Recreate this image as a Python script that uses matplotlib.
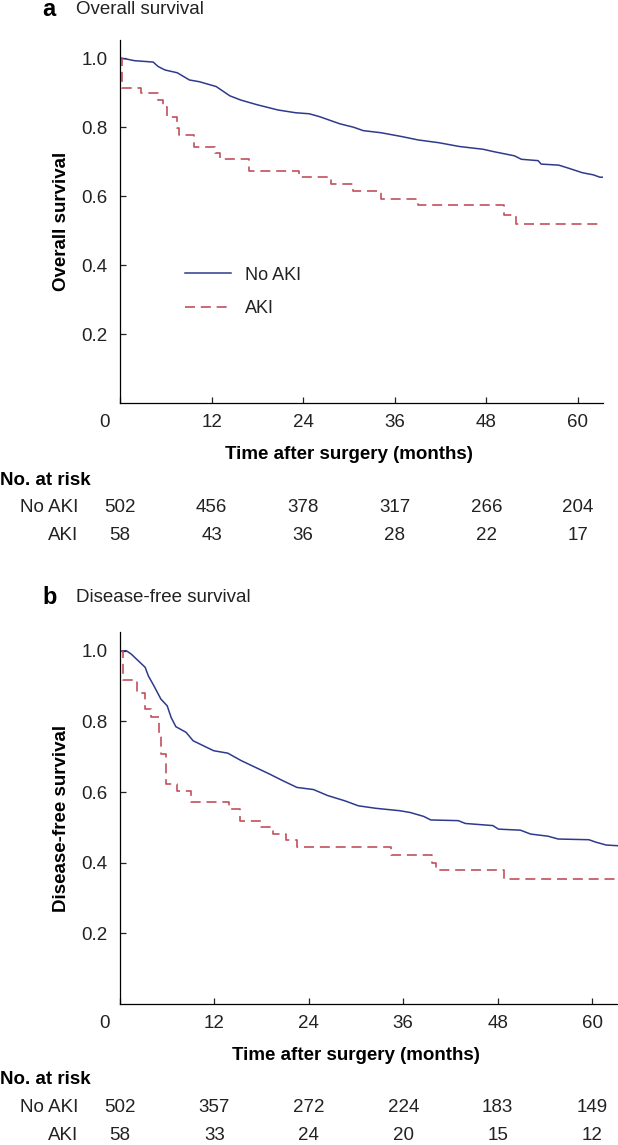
import matplotlib
matplotlib.use("Agg")
import matplotlib.pyplot as plt
from matplotlib.transforms import blended_transform_factory, ScaledTranslation

plt.rcParams['font.family'] = ['Liberation Sans', 'DejaVu Sans']

# ---- data ----
months = [0, 12, 24, 36, 48, 60]

# panel a: overall survival
os_noaki_t = [0, 0.8, 1.9, 4.35, 5.0, 5.9, 7.5, 9.1, 10.4, 12.6, 14.4, 15.8, 18.0, 20.7,
              23.0, 24.8, 26.1, 28.8, 30.6, 31.9, 34.2, 36.9, 39.1, 41.8, 44.5, 47.6, 49.0,
              51.7, 52.6, 54.8, 55.2, 57.5, 58.8, 60.6, 62.0, 62.9, 63.3]
os_noaki_s = [1.0, 0.998, 0.993, 0.989, 0.976, 0.966, 0.958, 0.937, 0.932, 0.918, 0.891,
              0.879, 0.865, 0.850, 0.842, 0.839, 0.831, 0.810, 0.800, 0.790, 0.784, 0.773,
              0.763, 0.755, 0.744, 0.736, 0.729, 0.717, 0.707, 0.703, 0.693, 0.690, 0.681,
              0.668, 0.662, 0.655, 0.655]
os_aki_t = [0, 0.3, 2.8, 5.0, 5.7, 6.1, 7.5, 7.7, 9.7, 12.4, 13.1, 16.9, 23.4, 27.7,
            30.6, 34.2, 39.1, 50.3, 51.9, 63.0]
os_aki_s = [1.0, 0.915, 0.899, 0.879, 0.860, 0.831, 0.797, 0.776, 0.742, 0.725, 0.708,
            0.674, 0.655, 0.635, 0.616, 0.593, 0.573, 0.546, 0.519, 0.519]
os_risk_noaki = [502, 456, 378, 317, 266, 204]
os_risk_aki = [58, 43, 36, 28, 22, 17]

# panel b: disease-free survival
dfs_noaki_t = [0, 0.8, 1.4, 2.3, 3.2, 3.6, 4.3, 5.2, 6.0, 6.5, 7.1, 8.4, 9.3, 10.6, 11.9,
               13.7, 15.4, 17.2, 19.0, 20.7, 22.5, 24.6, 26.4, 28.6, 30.3, 32.5, 35.6, 36.9,
               38.6, 39.5, 43.0, 43.9, 47.4, 48.1, 50.9, 52.2, 54.4, 55.7, 59.6, 60.5, 61.8,
               63.3]
dfs_noaki_s = [1.0, 1.0, 0.991, 0.972, 0.953, 0.929, 0.901, 0.863, 0.844, 0.811, 0.785,
               0.769, 0.745, 0.731, 0.717, 0.710, 0.689, 0.670, 0.651, 0.632, 0.613, 0.607,
               0.590, 0.575, 0.561, 0.554, 0.547, 0.542, 0.531, 0.521, 0.519, 0.511, 0.505,
               0.495, 0.492, 0.481, 0.475, 0.467, 0.465, 0.458, 0.450, 0.448]
dfs_aki_t = [0, 0.35, 2.1, 3.2, 3.9, 4.9, 5.2, 5.8, 7.2, 9.0, 13.8, 15.2, 17.9, 19.4,
             21.1, 22.5, 34.4, 39.6, 40.2, 48.8, 63.3]
dfs_aki_s = [1.0, 0.918, 0.880, 0.835, 0.811, 0.759, 0.708, 0.623, 0.602, 0.571, 0.552,
             0.517, 0.500, 0.481, 0.465, 0.443, 0.422, 0.400, 0.380, 0.354, 0.354]
dfs_risk_noaki = [502, 357, 272, 224, 183, 149]
dfs_risk_aki = [58, 33, 24, 20, 15, 12]

BLUE = '#2f3a8c'
RED = '#c0505c'
INK = '#222222'
W, H = 618, 1145

fig = plt.figure(figsize=(W / 100, H / 100), dpi=100)


def fy(px):
    return 1 - px / H


def panel(box, title_y, letter, title, ylabel, noaki, aki, risk_noaki, risk_aki, rows,
          legend=False):
    left, right, top, bottom = box
    ax = fig.add_axes([left / W, fy(bottom), (right - left) / W, (bottom - top) / H])
    # the big cohort has many tiny steps, so it reads as a jagged line
    ax.plot(noaki[0], noaki[1], color=BLUE, lw=1.1, label='No AKI')
    ax.step(aki[0], aki[1], where='post', color=RED, lw=1.2, dashes=(6, 3.5), label='AKI')
    ax.set_xlim(0, 63.3)
    ax.set_ylim(0, 1.053)
    for s in ['top', 'right']:
        ax.spines[s].set_visible(False)
    for s in ['left', 'bottom']:
        ax.spines[s].set_linewidth(0.9)
    ax.set_xticks(months)
    ax.set_xticklabels([str(m) for m in months])
    ax.set_yticks([0.2, 0.4, 0.6, 0.8, 1.0])
    ax.set_yticklabels(['0.2', '0.4', '0.6', '0.8', '1.0'])
    ax.tick_params(direction='in', length=4.5, width=0.9, labelsize=13.5, colors=INK)
    ax.tick_params(axis='x', pad=8)
    ax.tick_params(axis='y', pad=9)
    # the origin label sits a little to the left
    lab0 = ax.get_xticklabels()[0]
    lab0.set_transform(lab0.get_transform() + ScaledTranslation(-0.15, 0, fig.dpi_scale_trans))

    fig.text(42 / W, fy(title_y), letter, fontsize=17, fontweight='bold', va='center')
    fig.text(76.5 / W, fy(title_y), title, fontsize=13.5, va='center', color=INK)
    fig.text(62 / W, fy((top + bottom) / 2), ylabel, rotation=90, fontsize=13.5,
             fontweight='bold', ha='center', va='center')

    tr = blended_transform_factory(ax.transData, fig.transFigure)
    ax.text(30, fy(rows[0]), 'Time after surgery (months)', transform=tr, ha='center',
            va='center', fontsize=13.5, fontweight='bold')
    fig.text(0, fy(rows[1]), 'No. at risk', fontsize=13.5, fontweight='bold', va='center')
    fig.text(78 / W, fy(rows[2]), 'No AKI', fontsize=13.5, ha='right', va='center', color=INK)
    fig.text(78 / W, fy(rows[3]), 'AKI', fontsize=13.5, ha='right', va='center', color=INK)
    for m, a, b in zip(months, risk_noaki, risk_aki):
        ax.text(m, fy(rows[2]), str(a), transform=tr, ha='center', va='center',
                fontsize=13.5, color=INK)
        ax.text(m, fy(rows[3]), str(b), transform=tr, ha='center', va='center',
                fontsize=13.5, color=INK)

    if legend:
        ax.legend(loc='upper left', bbox_to_anchor=(0.1, 0.42), frameon=False,
                  fontsize=13, handlelength=2.6, handletextpad=0.75, labelspacing=0.9,
                  labelcolor=INK)
    return ax


panel((120, 603, 40, 403), 10, 'a', 'Overall survival', 'Overall survival',
      (os_noaki_t, os_noaki_s), (os_aki_t, os_aki_s), os_risk_noaki, os_risk_aki,
      (455, 481, 508, 536), legend=True)
panel((120, 618, 632, 1004), 597, 'b', 'Disease-free survival', 'Disease-free survival',
      (dfs_noaki_t, dfs_noaki_s), (dfs_aki_t, dfs_aki_s), dfs_risk_noaki, dfs_risk_aki,
      (1056, 1080, 1107, 1135))

fig.savefig('out.png', dpi=100)
